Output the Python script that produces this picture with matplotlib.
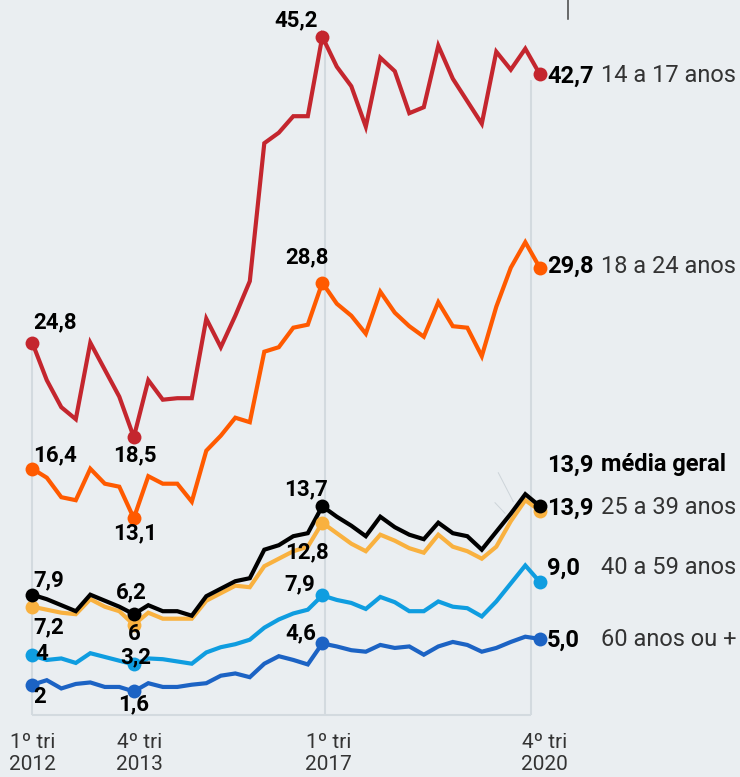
import matplotlib
matplotlib.use('Agg')
import matplotlib.pyplot as plt

plt.rcParams['font.family'] = ['Roboto', 'DejaVu Sans']

BG = '#eaeef1'
GRID = '#d3dadf'
W, H = 740, 777
# posicao em pixels do 1o trimestre, largura de um trimestre, linha do zero
X0_PX, STEP_PX, Y0_PX, UNIT_PX = 32.3, 14.5, 714.7, 15.0

trimestres = list(range(36))
tick_idx = [0, 7, 20, 35]
tick_labels = ['1º tri\n2012', '4º tri\n2013', '1º tri\n2017', '4º tri\n2020']

grupos = ['14 a 17 anos', '18 a 24 anos', 'média geral', '25 a 39 anos',
          '40 a 59 anos', '60 anos ou +']
cores = ['#c4262e', '#ff5a00', '#000000', '#f9b13f', '#0f9de0', '#1c63c4']

taxa_14_17 = [24.8, 22.3, 20.5, 19.7, 24.8, 23.0, 21.2, 18.5, 22.3, 21.0, 21.1, 21.1,
              26.4, 24.5, 26.6, 28.9, 38.1, 38.8, 39.9, 39.9, 45.2, 43.2, 41.9, 39.2,
              43.8, 42.9, 40.1, 40.5, 44.6, 42.4, 40.9, 39.4, 44.2, 43.0, 44.4, 42.7]
taxa_18_24 = [16.4, 15.8, 14.5, 14.3, 16.4, 15.4, 15.2, 13.1, 15.9, 15.4, 15.4, 14.2,
              17.6, 18.6, 19.8, 19.5, 24.2, 24.5, 25.8, 26.0, 28.8, 27.4, 26.6, 25.4,
              28.2, 26.8, 25.9, 25.2, 27.5, 25.9, 25.8, 23.9, 27.2, 29.8, 31.5, 29.8]
media_geral = [8.0, 7.7, 7.3, 6.9, 8.0, 7.6, 7.2, 6.7, 7.3, 6.9, 6.9, 6.6,
               7.9, 8.4, 8.9, 9.1, 11.0, 11.3, 11.9, 12.1, 13.9, 13.2, 12.6, 11.9,
               13.2, 12.5, 12.0, 11.7, 12.8, 12.1, 11.9, 11.0, 12.2, 13.4, 14.7, 13.9]
taxa_25_39 = [7.2, 7.0, 6.8, 6.7, 7.7, 7.2, 6.9, 6.0, 6.8, 6.4, 6.4, 6.4,
              7.6, 8.1, 8.6, 8.5, 9.9, 10.4, 10.9, 11.2, 12.8, 12.1, 11.4, 10.9,
              12.0, 11.6, 11.1, 10.8, 12.0, 11.2, 10.9, 10.4, 11.2, 12.9, 14.3, 13.6]
taxa_40_59 = [3.95, 3.65, 3.75, 3.45, 4.1, 3.85, 3.6, 3.35, 3.75, 3.7, 3.55, 3.4,
              4.15, 4.5, 4.7, 5.0, 5.8, 6.35, 6.75, 7.0, 7.95, 7.65, 7.45, 7.05,
              7.85, 7.5, 6.9, 6.9, 7.55, 7.2, 7.1, 6.55, 7.55, 8.75, 9.95, 8.85]
taxa_60 = [2.0, 2.3, 1.75, 2.05, 2.15, 1.85, 1.85, 1.55, 2.1, 1.85, 1.85, 2.0,
           2.1, 2.6, 2.75, 2.5, 3.4, 3.9, 3.65, 3.35, 4.75, 4.55, 4.3, 4.2,
           4.65, 4.45, 4.55, 4.0, 4.55, 4.85, 4.65, 4.2, 4.45, 4.85, 5.2, 5.05]
series = [taxa_14_17, taxa_18_24, media_geral, taxa_25_39, taxa_40_59, taxa_60]

# rotulos nos pontos 1o tri 2012, 4o tri 2013, 1o tri 2017
rotulos = [['24,8', '18,5', '45,2'],
           ['16,4', '13,1', '28,8'],
           ['7,9', '6,2', '13,7'],
           ['7,2', '6', '12,8'],
           ['4', '3,2', '7,9'],
           ['2', '1,6', '4,6']]
finais = ['42,7', '29,8', '13,9', '13,9', '9,0', '5,0']

# deslocamento dos rotulos em pixels (dx, dy, alinhamento)
desloc = [[(1, 20, 'left'), (1, -18, 'center'), (-4, 16, 'right')],
          [(1, 13, 'left'), (1, -15, 'center'), (6, 25, 'right')],
          [(1, 14, 'left'), (-2, 22, 'center'), (6, 17, 'right')],
          [(1, -21, 'left'), (0, -9.5, 'center'), (6, -30, 'right')],
          [(3, 1.5, 'left'), (2, 7.5, 'center'), (-7, 11.5, 'right')],
          [(1, -12, 'left'), (0, -12.5, 'center'), (-6, 10, 'right')]]
final_y = [76, 266, 465, 508, 568, 640]


def dx(px):
    return (px - X0_PX) / STEP_PX


def dy(py):
    return (Y0_PX - py) / UNIT_PX


fig = plt.figure(figsize=(W / 100, H / 100), dpi=100, facecolor=BG)
ax = fig.add_axes([0, 0, 1, 1])
ax.set_facecolor(BG)
ax.set_xlim(dx(0), dx(W))
ax.set_ylim(dy(H), dy(0))
ax.axis('off')

# linhas de referencia
ax.vlines([0, dx(325), dx(531)], 0, [taxa_14_17[0], taxa_14_17[20], dy(80)],
          color=GRID, lw=1.5, zorder=1)
ax.hlines(0, 0, dx(531), color=GRID, lw=1.5, zorder=1)

# ordem de desenho: media geral por cima da faixa 25 a 39
ordem = [0, 1, 3, 2, 4, 5]
for z, k in enumerate(ordem):
    ys = series[k]
    ax.plot(trimestres, ys, color=cores[k], lw=3, solid_joinstyle='miter',
            zorder=3 + z * 0.1)
    pts = tick_idx
    ax.plot(pts, [ys[i] for i in pts], 'o', color=cores[k], ms=10,
            mec='none', zorder=4 + z * 0.1, clip_on=False)
    for j, i in enumerate(tick_idx[:3]):
        ox, oy, ha = desloc[k][j]
        ax.annotate(rotulos[k][j], (i, ys[i]), xytext=(ox * 0.72, oy * 0.72),
                    textcoords='offset points', ha=ha, va='center',
                    fontsize=16, fontweight='bold', color='black', zorder=6)

# rotulos finais
for k in range(6):
    fig.text(547 / W, 1 - final_y[k] / H, finais[k], ha='left', va='center',
             fontsize=17, fontweight='bold', color='black')
    if k == 2:
        fig.text(601 / W, 1 - final_y[k] / H, grupos[k], ha='left', va='center',
                 fontsize=17, fontweight='bold', color='black')
    else:
        fig.text(601 / W, 1 - final_y[k] / H, grupos[k], ha='left', va='center',
                 fontsize=17, color='#333333')

# linhas finas de chamada
ax.plot([dx(498.3), dx(513.3)], [dy(472.7), dy(501.7)], color='#cdd4d9', lw=0.7, zorder=2)
ax.plot([dx(495), dx(505)], [dy(502.7), dy(513.3)], color='#cdd4d9', lw=0.7, zorder=2)
ax.plot([dx(568.3), dx(568.3)], [dy(0), dy(18.7)], color='#444444', lw=1.1,
        zorder=2, clip_on=False)

# eixo x
tick_off = [0, 6, 6, 5]
for i, lab, off in zip(tick_idx, tick_labels, tick_off):
    ax.annotate(lab, (i, 0), xytext=(off * 0.72, -39.3 * 0.72),
                textcoords='offset points', ha='center', va='center',
                fontsize=15, color='#333333', linespacing=1.2)

fig.savefig('out.png', dpi=100, facecolor=BG)
